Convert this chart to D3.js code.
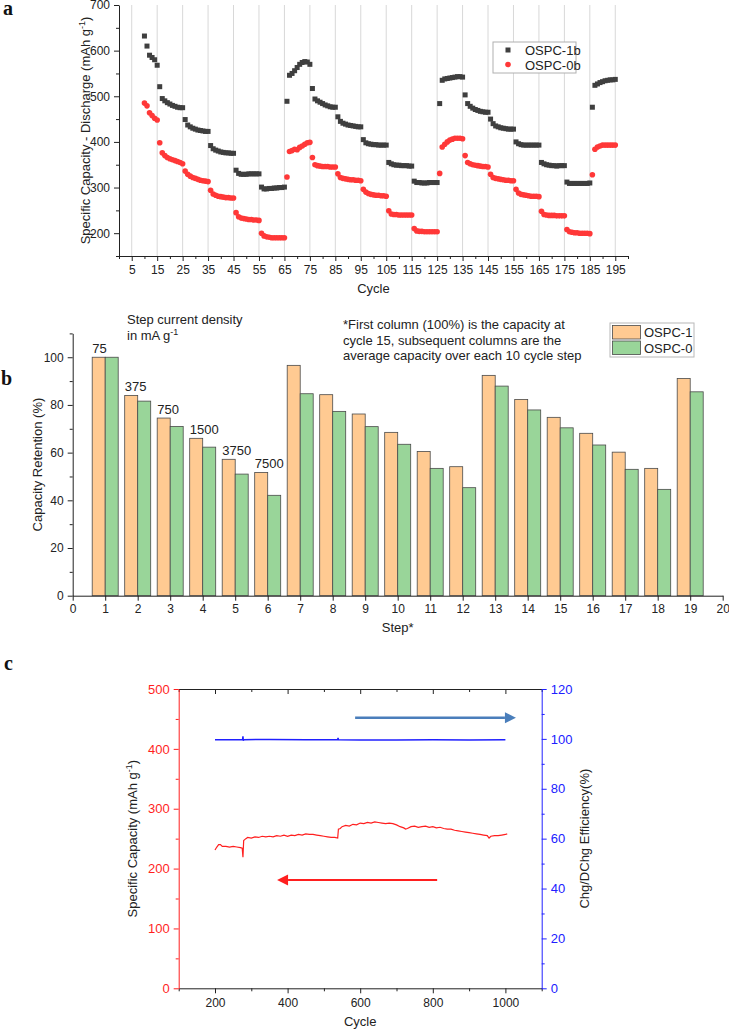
<!DOCTYPE html>
<html lang="en">
<head>
<meta charset="UTF-8">
<title>OSPC rate and cycling</title>
<script src="https://d3js.org/d3.v7.min.js"></script>
<style>
    body {margin: 0; background: #fff;}
    svg {display: block;}
    text {font-family: "Liberation Sans", Arial, sans-serif; fill: #222;}
    .domain, .tick line {stroke: #222;}
    .tick text {font-size: 12px; fill: #222;}
    .plabel {font-family: "Liberation Serif", "Times New Roman", serif; font-weight: bold; font-size: 20px; fill: #111;}
    .title {font-size: 13px;}
</style>
</head>
<body>
<script>
    // ---------- panel a : discharge capacity, cycles 10..195
    const firstCycle = 10;
    const ospc1b = [
        632, 610, 590, 585, 580, 568,
        521, 495, 490, 486, 483, 480, 478, 476, 475, 475,
        449, 437, 433, 430, 428, 426, 425, 424, 423, 423,
        392, 385, 382, 380, 378, 377, 376, 376, 375, 375,
        338, 331, 329, 329, 329, 330, 330, 330, 330, 330,
        301, 297, 297, 298, 298, 299, 299, 300, 300, 301,
        489, 546, 550, 556, 563, 570, 574, 576, 575, 570,
        517, 494, 490, 487, 484, 481, 479, 477, 476, 476,
        455, 445, 441, 439, 437, 436, 435, 434, 433, 433,
        405, 398, 396, 395, 394, 394, 393, 393, 393, 393,
        355, 352, 350, 349, 349, 348, 348, 348, 347, 347,
        314, 311, 311, 310, 310, 310, 311, 311, 311, 311,
        484, 535, 538, 539, 540, 541, 542, 543, 543, 542,
        503, 484, 478, 474, 471, 469, 467, 466, 465, 465,
        450, 440, 435, 433, 431, 430, 429, 428, 428, 428,
        400, 396, 394, 393, 393, 393, 393, 393, 393, 393,
        355, 352, 350, 349, 348, 348, 347, 348, 348, 348,
        312, 309, 309, 309, 309, 309, 309, 309, 309, 310,
        476, 524, 527, 530, 532, 534, 535, 536, 536, 537
    ];
    const ospc0b = [
        485, 479, 464, 458, 452, 448,
        398, 376, 370, 366, 363, 361, 359, 357, 355, 352,
        336, 329, 325, 322, 320, 318, 316, 315, 314, 313,
        294, 286, 283, 281, 280, 279, 278, 278, 277, 277,
        245, 236, 233, 232, 231, 230, 230, 229, 229, 228,
        200, 194, 192, 191, 190, 190, 190, 190, 190, 190,
        323, 379, 381, 384, 383, 388, 391, 395, 398, 399,
        366, 350, 348, 347, 346, 346, 346, 345, 345, 345,
        330, 322, 320, 319, 318, 317, 317, 316, 316, 315,
        296, 290, 287, 285, 284, 283, 283, 282, 282, 281,
        249, 242, 241, 241, 240, 240, 240, 240, 240, 240,
        210, 205, 204, 204, 203, 203, 203, 203, 203, 203,
        331, 389, 395, 400, 404, 406, 408, 408, 408, 407,
        370, 355, 352, 350, 349, 348, 347, 346, 346, 345,
        329, 322, 320, 319, 318, 317, 316, 316, 315, 315,
        296, 288, 285, 284, 283, 282, 281, 281, 281, 280,
        248, 241, 240, 239, 239, 239, 238, 238, 238, 238,
        208, 203, 202, 201, 201, 200, 200, 200, 200, 199,
        328, 384, 389, 391, 393, 393, 393, 393, 393, 393
    ];
    const cycleTicksA = [5, 15, 25, 35, 45, 55, 65, 75, 85, 95, 105, 115, 125, 135, 145, 155, 165, 175, 185, 195];
    const cycleMinorA = [0, 10, 20, 30, 40, 50, 60, 70, 80, 90, 100, 110, 120, 130, 140, 150, 160, 170, 180, 190, 200];
    const capTicksA = [200, 300, 400, 500, 600, 700];
    const capMinorA = [150, 250, 350, 450, 550, 650];

    // ---------- panel b : capacity retention per step
    const steps = [1, 2, 3, 4, 5, 6, 7, 8, 9, 10, 11, 12, 13, 14, 15, 16, 17, 18, 19];
    const retention1 = [100, 84.0, 74.5, 66.0, 57.2, 51.7, 96.6, 84.3, 76.2, 68.5, 60.5, 54.1, 92.4, 82.3, 74.8, 68.1, 60.2, 53.4, 91.1];
    const retention0 = [100, 81.6, 71.0, 62.3, 51.0, 42.1, 84.7, 77.3, 70.9, 63.5, 53.4, 45.3, 87.9, 77.9, 70.4, 63.2, 53.0, 44.6, 85.5];
    const currentLabels = ["75", "375", "750", "1500", "3750", "7500"];
    const stepTicks = [0, 1, 2, 3, 4, 5, 6, 7, 8, 9, 10, 11, 12, 13, 14, 15, 16, 17, 18, 19, 20];
    const retTicks = [0, 20, 40, 60, 80, 100];
    const retMinor = [10, 30, 50, 70, 90, 110];

    // ---------- panel c : long cycling
    const capCycles = [200, 205, 210, 215, 220, 230, 240, 250, 260, 270, 275, 277, 279, 285, 290, 300, 310, 320, 330, 340,
        350, 360, 370, 380, 390, 400, 410, 420, 430, 440, 450, 460, 470, 480, 490, 500, 510, 520, 530, 538,
        540, 545, 550, 560, 570, 580, 590, 600, 610, 620, 630, 640, 650, 660, 670, 680, 690, 700, 710, 720,
        725, 730, 740, 750, 760, 770, 780, 790, 800, 810, 820, 830, 840, 850, 860, 870, 880, 890, 900, 910,
        920, 930, 940, 950, 955, 960, 970, 980, 990, 1000, 1005];
    const capValues = [231, 236, 240, 240, 237, 237, 236, 237, 236, 235, 234, 219, 247, 250, 252, 251, 253, 252, 254, 253,
        254, 253, 255, 254, 256, 254, 256, 255, 257, 256, 258, 257, 257, 256, 255, 254, 253, 252, 252, 251,
        266, 267, 270, 272, 271, 274, 273, 276, 275, 277, 276, 278, 277, 276, 275, 276, 275, 273, 270, 268,
        266, 267, 270, 271, 269, 270, 271, 269, 270, 268, 269, 267, 266, 266, 264, 263, 262, 261, 260, 259,
        258, 257, 256, 255, 251, 254, 255, 255, 256, 257, 258];
    const effCycles = [200, 250, 276, 277, 278, 279, 350, 450, 538, 539, 540, 600, 700, 800, 900, 1000];
    const effValues = [99.7, 99.7, 99.7, 101.0, 99.3, 99.7, 99.8, 99.7, 99.8, 100.4, 99.7, 99.6, 99.6, 99.7, 99.6, 99.7];
    const cycleTicksC = [200, 400, 600, 800, 1000];
    const cycleMinorC = [100, 300, 500, 700, 900, 1100];
    const capTicksC = [0, 100, 200, 300, 400, 500];
    const capMinorC = [50, 150, 250, 350, 450];
    const effTicks = [0, 20, 40, 60, 80, 100, 120];
    const effMinor = [10, 30, 50, 70, 90, 110];

    const gray = "#3f3f3f";
    const red = "#ff3838";
    const orange = "#ffca92";
    const green = "#99d599";

    const svg = d3.select("body").append("svg")
            .attr("width", 729).attr("height", 1029);

    function superTitle(g, before, sup, after) {
        g.append("tspan").text(before);
        g.append("tspan").text(sup).attr("dy", -5).style("font-size", "9px");
        g.append("tspan").text(after).attr("dy", 5);
    }

    // ======================= panel a
    const xA = d3.scaleLinear().domain([0, 200]).range([119, 628]);
    const yA = d3.scaleLinear().domain([150, 700]).range([256, 5]);

    svg.append("g").selectAll("line.grid")
            .data(cycleTicksA).join("line")
            .attr("x1", d => xA(d)).attr("x2", d => xA(d))
            .attr("y1", yA(700)).attr("y2", yA(150))
            .style("stroke", "#d8d8d8");

    svg.append("g").attr("transform", `translate(0,${yA(150)})`)
            .call(d3.axisBottom(xA).tickValues(cycleMinorA).tickSize(3).tickFormat("").tickSizeOuter(0));
    svg.append("g").attr("transform", `translate(0,${yA(150)})`)
            .call(d3.axisBottom(xA).tickValues(cycleTicksA).tickSize(5).tickPadding(4).tickSizeOuter(0))
            .call(g => g.select(".domain").remove());
    svg.append("g").attr("transform", `translate(${xA(0)},0)`)
            .call(d3.axisLeft(yA).tickValues(capMinorA).tickSize(3).tickFormat("").tickSizeOuter(0));
    svg.append("g").attr("transform", `translate(${xA(0)},0)`)
            .call(d3.axisLeft(yA).tickValues(capTicksA).tickSize(5).tickPadding(4).tickSizeOuter(0))
            .call(g => g.select(".domain").remove());

    svg.selectAll("rect.s1").data(ospc1b).join("rect")
            .attr("x", (d, i) => xA(firstCycle + i) - 2.5)
            .attr("y", d => yA(d) - 2.5)
            .attr("width", 5).attr("height", 5)
            .style("fill", gray);
    svg.selectAll("circle.s0").data(ospc0b).join("circle")
            .attr("cx", (d, i) => xA(firstCycle + i))
            .attr("cy", d => yA(d))
            .attr("r", 2.8)
            .style("fill", red);

    svg.append("text").attr("class", "title")
            .attr("transform", `translate(90,${(yA(150) + yA(700)) / 2}) rotate(-90)`)
            .attr("text-anchor", "middle")
            .call(t => superTitle(t, "Specific Capacity - Discharge (mAh g", "-1", ")"));
    svg.append("text").attr("class", "title")
            .attr("x", xA(100)).attr("y", 293).attr("text-anchor", "middle").text("Cycle");

    // legend a
    const legA = svg.append("g").attr("transform", "translate(493,42)");
    legA.append("rect").attr("width", 83).attr("height", 31)
            .style("fill", "#fff").style("stroke", "#b0b0b0");
    legA.append("rect").attr("x", 12.5).attr("y", 5.5).attr("width", 5).attr("height", 5).style("fill", gray);
    legA.append("circle").attr("cx", 15).attr("cy", 22.5).attr("r", 2.8).style("fill", red);
    legA.append("text").attr("x", 32).attr("y", 13).style("font-size", "13px").text("OSPC-1b");
    legA.append("text").attr("x", 32).attr("y", 28).style("font-size", "13px").text("OSPC-0b");

    svg.append("text").attr("class", "plabel").attr("x", 3).attr("y", 15).text("a");

    // ======================= panel b
    const xB = d3.scaleLinear().domain([0, 20]).range([72.7, 722.7]);
    const yB = d3.scaleLinear().domain([0, 110]).range([595.7, 333.4]);
    const barW = xB(0.4) - xB(0);

    svg.append("g").selectAll("rect.b1").data(steps).join("rect")
            .attr("x", d => xB(d) - barW)
            .attr("y", (d, i) => yB(retention1[i]))
            .attr("width", barW)
            .attr("height", (d, i) => yB(0) - yB(retention1[i]))
            .style("fill", orange).style("stroke", "#4a4a4a").style("stroke-width", 0.8);
    svg.append("g").selectAll("rect.b0").data(steps).join("rect")
            .attr("x", d => xB(d))
            .attr("y", (d, i) => yB(retention0[i]))
            .attr("width", barW)
            .attr("height", (d, i) => yB(0) - yB(retention0[i]))
            .style("fill", green).style("stroke", "#4a4a4a").style("stroke-width", 0.8);

    svg.append("g").selectAll("text.cur").data(currentLabels).join("text")
            .attr("x", (d, i) => xB(steps[i]) - barW)
            .attr("y", (d, i) => yB(retention1[i]) - 4)
            .style("font-size", "13px")
            .text(d => d);

    svg.append("g").attr("transform", `translate(0,${yB(0)})`)
            .call(d3.axisBottom(xB).tickValues(stepTicks).tickSize(5).tickPadding(4).tickSizeOuter(0));
    svg.append("g").attr("transform", `translate(${xB(0)},0)`)
            .call(d3.axisLeft(yB).tickValues(retMinor).tickSize(3).tickFormat("").tickSizeOuter(0));
    svg.append("g").attr("transform", `translate(${xB(0)},0)`)
            .call(d3.axisLeft(yB).tickValues(retTicks).tickSize(5).tickPadding(4).tickSizeOuter(0))
            .call(g => g.select(".domain").remove());

    svg.append("text").attr("class", "title")
            .attr("transform", `translate(42,${(yB(0) + yB(110)) / 2}) rotate(-90)`)
            .attr("text-anchor", "middle").text("Capacity Retention (%)");
    svg.append("text").attr("class", "title")
            .attr("x", xB(10)).attr("y", 632).attr("text-anchor", "middle").text("Step*");

    const noteL = svg.append("text").style("font-size", "13px");
    noteL.append("tspan").attr("x", 127).attr("y", 324).text("Step current density");
    noteL.append("tspan").attr("x", 127).attr("y", 340)
            .call(t => superTitle(t, "in mA g", "-1", ""));

    const noteR = svg.append("text").style("font-size", "13px");
    ["*First column (100%) is the capacity at",
     "cycle 15, subsequent columns are the",
     "average capacity over each 10 cycle step"].forEach((s, i) =>
        noteR.append("tspan").attr("x", 343).attr("y", 329 + i * 15.5).text(s));

    const legB = svg.append("g").attr("transform", "translate(610,323)");
    legB.append("rect").attr("width", 84).attr("height", 34)
            .style("fill", "#fff").style("stroke", "#b8b8b8");
    legB.append("rect").attr("x", 2.5).attr("y", 2.5).attr("width", 28).attr("height", 13.5)
            .style("fill", orange).style("stroke", "#4a4a4a").style("stroke-width", 0.8);
    legB.append("rect").attr("x", 2.5).attr("y", 18).attr("width", 28).attr("height", 13.5)
            .style("fill", green).style("stroke", "#4a4a4a").style("stroke-width", 0.8);
    legB.append("text").attr("x", 34).attr("y", 14).style("font-size", "13px").text("OSPC-1");
    legB.append("text").attr("x", 34).attr("y", 30).style("font-size", "13px").text("OSPC-0");

    svg.append("text").attr("class", "plabel").attr("x", 1).attr("y", 385).text("b");

    // ======================= panel c
    const xC = d3.scaleLinear().domain([100, 1100]).range([178.7, 541.7]);
    const yC = d3.scaleLinear().domain([0, 500]).range([988.3, 689]);
    const yE = d3.scaleLinear().domain([0, 120]).range([988.3, 689]);
    const cRed = "#ff1f1f";
    const cBlue = "#2020ff";

    // top frame line with inward ticks
    svg.append("g").attr("transform", `translate(0,${yC(500)})`)
            .call(d3.axisTop(xC).tickValues(cycleMinorC).tickSize(-3).tickFormat("").tickSizeOuter(0));
    svg.append("g").attr("transform", `translate(0,${yC(500)})`)
            .call(d3.axisTop(xC).tickValues(cycleTicksC).tickSize(-5).tickFormat("").tickSizeOuter(0));
    svg.append("g").attr("transform", `translate(0,${yC(0)})`)
            .call(d3.axisBottom(xC).tickValues(cycleMinorC).tickSize(3).tickFormat("").tickSizeOuter(0));
    svg.append("g").attr("transform", `translate(0,${yC(0)})`)
            .call(d3.axisBottom(xC).tickValues(cycleTicksC).tickSize(5).tickPadding(5)
                    .tickFormat(d3.format("d")).tickSizeOuter(0))
            .call(g => g.select(".domain").remove());

    const leftC = svg.append("g").attr("transform", `translate(${xC(100)},0)`);
    leftC.append("g").call(d3.axisLeft(yC).tickValues(capMinorC).tickSize(3).tickFormat("").tickSizeOuter(0));
    leftC.append("g").call(d3.axisLeft(yC).tickValues(capTicksC).tickSize(5).tickPadding(4).tickSizeOuter(0))
            .call(g => g.select(".domain").remove());
    leftC.selectAll(".domain, .tick line").style("stroke", cRed);
    leftC.selectAll(".tick text").style("fill", cRed).style("font-size", "13px");

    const rightC = svg.append("g").attr("transform", `translate(${xC(1100)},0)`);
    rightC.append("g").call(d3.axisRight(yE).tickValues(effMinor).tickSize(3).tickFormat("").tickSizeOuter(0));
    rightC.append("g").call(d3.axisRight(yE).tickValues(effTicks).tickSize(5).tickPadding(4).tickSizeOuter(0))
            .call(g => g.select(".domain").remove());
    rightC.selectAll(".domain, .tick line").style("stroke", cBlue);
    rightC.selectAll(".tick text").style("fill", cBlue).style("font-size", "13px");

    const capLine = d3.line().x(d => xC(d[0])).y(d => yC(d[1]));
    const effLine = d3.line().x(d => xC(d[0])).y(d => yE(d[1]));

    svg.append("path")
            .datum(capCycles.map((c, i) => [c, capValues[i]]))
            .attr("d", capLine)
            .style("fill", "none").style("stroke", cRed).style("stroke-width", 1.2);
    svg.append("path")
            .datum(effCycles.map((c, i) => [c, effValues[i]]))
            .attr("d", effLine)
            .style("fill", "none").style("stroke", cBlue).style("stroke-width", 1.5);

    // arrows pointing to the axis each curve belongs to
    function arrow(x0, x1, y, color, w, head) {
        const dir = Math.sign(x1 - x0);
        svg.append("line")
                .attr("x1", x0).attr("x2", x1 - dir * head).attr("y1", y).attr("y2", y)
                .style("stroke", color).style("stroke-width", w);
        svg.append("path")
                .attr("d", `M${x1},${y}L${x1 - dir * head},${y - head / 2}L${x1 - dir * head},${y + head / 2}Z`)
                .style("fill", color);
    }
    arrow(xC(586), xC(1029), yE(108.5), "#4a7ebb", 2.6, 11);
    arrow(xC(812), xC(371), yC(181), cRed, 2, 11);

    svg.append("text").attr("class", "title")
            .attr("transform", `translate(137,${(yC(0) + yC(500)) / 2}) rotate(-90)`)
            .attr("text-anchor", "middle")
            .call(t => superTitle(t, "Specific Capacity (mAh g", "-1", ")"));
    svg.append("text").attr("class", "title")
            .attr("transform", `translate(589,${(yC(0) + yC(500)) / 2}) rotate(-90)`)
            .attr("text-anchor", "middle").text("Chg/DChg Efficiency(%)");
    svg.append("text").attr("class", "title")
            .attr("x", xC(600)).attr("y", 1026).attr("text-anchor", "middle").text("Cycle");

    svg.append("text").attr("class", "plabel").attr("x", 4).attr("y", 670).text("c");
</script>
</body>
</html>
